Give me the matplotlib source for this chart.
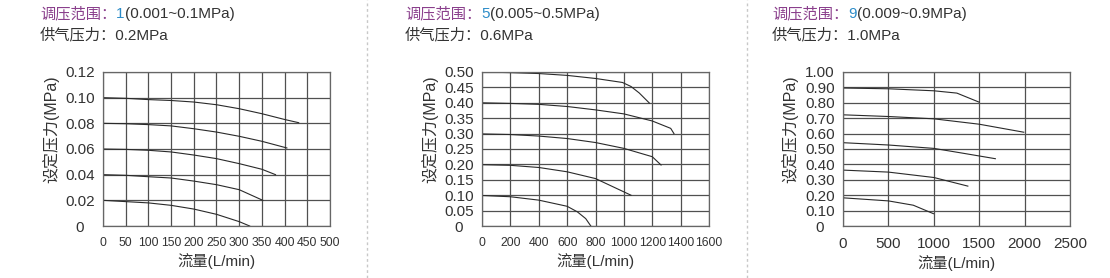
import matplotlib
matplotlib.use("Agg")
import matplotlib.pyplot as plt
import matplotlib.transforms as mtransforms

plt.rcParams['font.family'] = ['Liberation Sans', 'Noto Sans CJK SC', 'DejaVu Sans']

# ---- data ----
range_codes = ["1", "5", "9"]
range_texts = ["(0.001~0.1MPa)", "(0.005~0.5MPa)", "(0.009~0.9MPa)"]
supply_texts = ["0.2MPa", "0.6MPa", "1.0MPa"]

# panel 1: range 1
p1_x = [
    [0, 50, 100, 150, 200, 250, 300, 350, 400, 431],
    [0, 50, 100, 150, 200, 250, 300, 350, 405],
    [0, 50, 100, 150, 200, 250, 300, 350, 380],
    [0, 50, 100, 150, 200, 250, 300, 352],
    [0, 50, 100, 150, 200, 250, 300, 323],
]
p1_y = [
    [0.100, 0.0995, 0.0985, 0.0978, 0.0966, 0.0945, 0.0914, 0.0875, 0.0830, 0.0805],
    [0.080, 0.0797, 0.0790, 0.0780, 0.0758, 0.0732, 0.0699, 0.0660, 0.0608],
    [0.060, 0.0597, 0.0590, 0.0577, 0.0553, 0.0525, 0.0486, 0.0442, 0.0400],
    [0.040, 0.0395, 0.0384, 0.0374, 0.0350, 0.0322, 0.0283, 0.0200],
    [0.020, 0.0190, 0.0180, 0.0161, 0.0132, 0.0091, 0.0034, 0.0],
]

# panel 2: range 5
p2_x = [
    [0, 200, 400, 600, 800, 990, 1050, 1108, 1180],
    [0, 200, 400, 600, 800, 1000, 1200, 1330, 1353],
    [0, 200, 400, 600, 800, 1000, 1200, 1262],
    [0, 200, 400, 600, 800, 1050],
    [0, 200, 400, 600, 672, 731, 767],
]
p2_y = [
    [0.500, 0.498, 0.495, 0.489, 0.479, 0.466, 0.453, 0.432, 0.399],
    [0.400, 0.398, 0.395, 0.388, 0.377, 0.364, 0.341, 0.317, 0.300],
    [0.299, 0.297, 0.292, 0.284, 0.271, 0.252, 0.225, 0.198],
    [0.199, 0.197, 0.190, 0.176, 0.154, 0.100],
    [0.099, 0.095, 0.084, 0.064, 0.046, 0.024, 0.0],
]

# panel 3: range 9
p3_x = [
    [0, 500, 1000, 1254, 1500],
    [0, 500, 1000, 1500, 1991],
    [0, 500, 1000, 1327, 1678],
    [0, 500, 1000, 1375],
    [0, 500, 774, 996],
]
p3_y = [
    [0.896, 0.891, 0.878, 0.863, 0.804],
    [0.722, 0.711, 0.696, 0.661, 0.609],
    [0.541, 0.526, 0.504, 0.472, 0.437],
    [0.363, 0.350, 0.315, 0.259],
    [0.183, 0.163, 0.135, 0.080],
]

panel_xs = [p1_x, p2_x, p3_x]
panel_ys = [p1_y, p2_y, p3_y]
x_ticks = [list(range(0, 501, 50)), list(range(0, 1601, 200)), list(range(0, 2501, 500))]
y_ticks = [[0, 0.02, 0.04, 0.06, 0.08, 0.10, 0.12],
           [0, 0.05, 0.10, 0.15, 0.20, 0.25, 0.30, 0.35, 0.40, 0.45, 0.50],
           [0, 0.10, 0.20, 0.30, 0.40, 0.50, 0.60, 0.70, 0.80, 0.90, 1.00]]

W, H = 1110, 278
fig = plt.figure(figsize=(W / 100, H / 100), dpi=100)

ax_left = [103, 482, 843]
ax_w = 227
ax_top, ax_bot = 72, 226
text_left = [40, 405, 772]
ylabel_x = [51, 430, 790]
xtick_size = [8.8, 8.8, 11]
purple = "#8a3f8c"
blue = "#2c8cc8"
dark = "#333333"

for i in range(3):
    ax = fig.add_axes([ax_left[i] / W, (H - ax_bot) / H, ax_w / W, (ax_bot - ax_top) / H])
    for xs, ys in zip(panel_xs[i], panel_ys[i]):
        ax.plot(xs, ys, color="#2a2a2a", lw=0.8)
    ax.set_xlim(x_ticks[i][0], x_ticks[i][-1])
    ax.set_ylim(y_ticks[i][0], y_ticks[i][-1])
    ax.set_xticks(x_ticks[i])
    ax.set_yticks(y_ticks[i])
    ylabs = ["{:.2f}".format(v) for v in y_ticks[i]]
    ylabs[0] = "0"
    ax.set_yticklabels(ylabs)
    ax.grid(True, color="#505050", lw=0.9)
    ax.set_axisbelow(True)
    for s in ax.spines.values():
        s.set_color("#666666")
        s.set_linewidth(0.9)
    ax.tick_params(length=0, pad=6, labelcolor=dark)
    ax.tick_params(axis="y", labelsize=11)
    ax.tick_params(axis="x", labelsize=xtick_size[i], pad=8)
    # the "0" on the y axis sits a bit to the left in the original
    zl = ax.get_yticklabels()[0]
    zl.set_transform(zl.get_transform() + mtransforms.ScaledTranslation(-8 / 72, 0, fig.dpi_scale_trans))
    ax.set_xlabel("流量(L/min)", fontsize=11, color=dark, labelpad=3)
    fig.text(ylabel_x[i] / W, (ax_top + ax_bot) / 2 / H, "设定压力(MPa)", rotation=90,
             fontsize=11.5, color=dark, ha="center", va="center")

    # header texts, pieces chained one after another
    t1 = fig.text(text_left[i] / W, 1 - 14 / H, "调压范围：", color=purple, fontsize=11, va="center")
    t2 = ax.annotate(range_codes[i], xy=(1, 0), xycoords=t1, va="bottom", ha="left",
                     color=blue, fontsize=11, annotation_clip=False)
    ax.annotate(range_texts[i], xy=(1, 0), xycoords=t2, va="bottom", ha="left",
                color=dark, fontsize=11, annotation_clip=False)
    fig.text(text_left[i] / W, 1 - 35 / H, "供气压力：" + supply_texts[i], color=dark,
             fontsize=11, va="center")

for xs in [367, 747]:
    fig.add_artist(plt.Line2D([xs / W, xs / W], [0, 1], transform=fig.transFigure,
                              color="#c8c8c8", lw=1, ls=(0, (2, 2))))

fig.savefig("out.png", dpi=100)
